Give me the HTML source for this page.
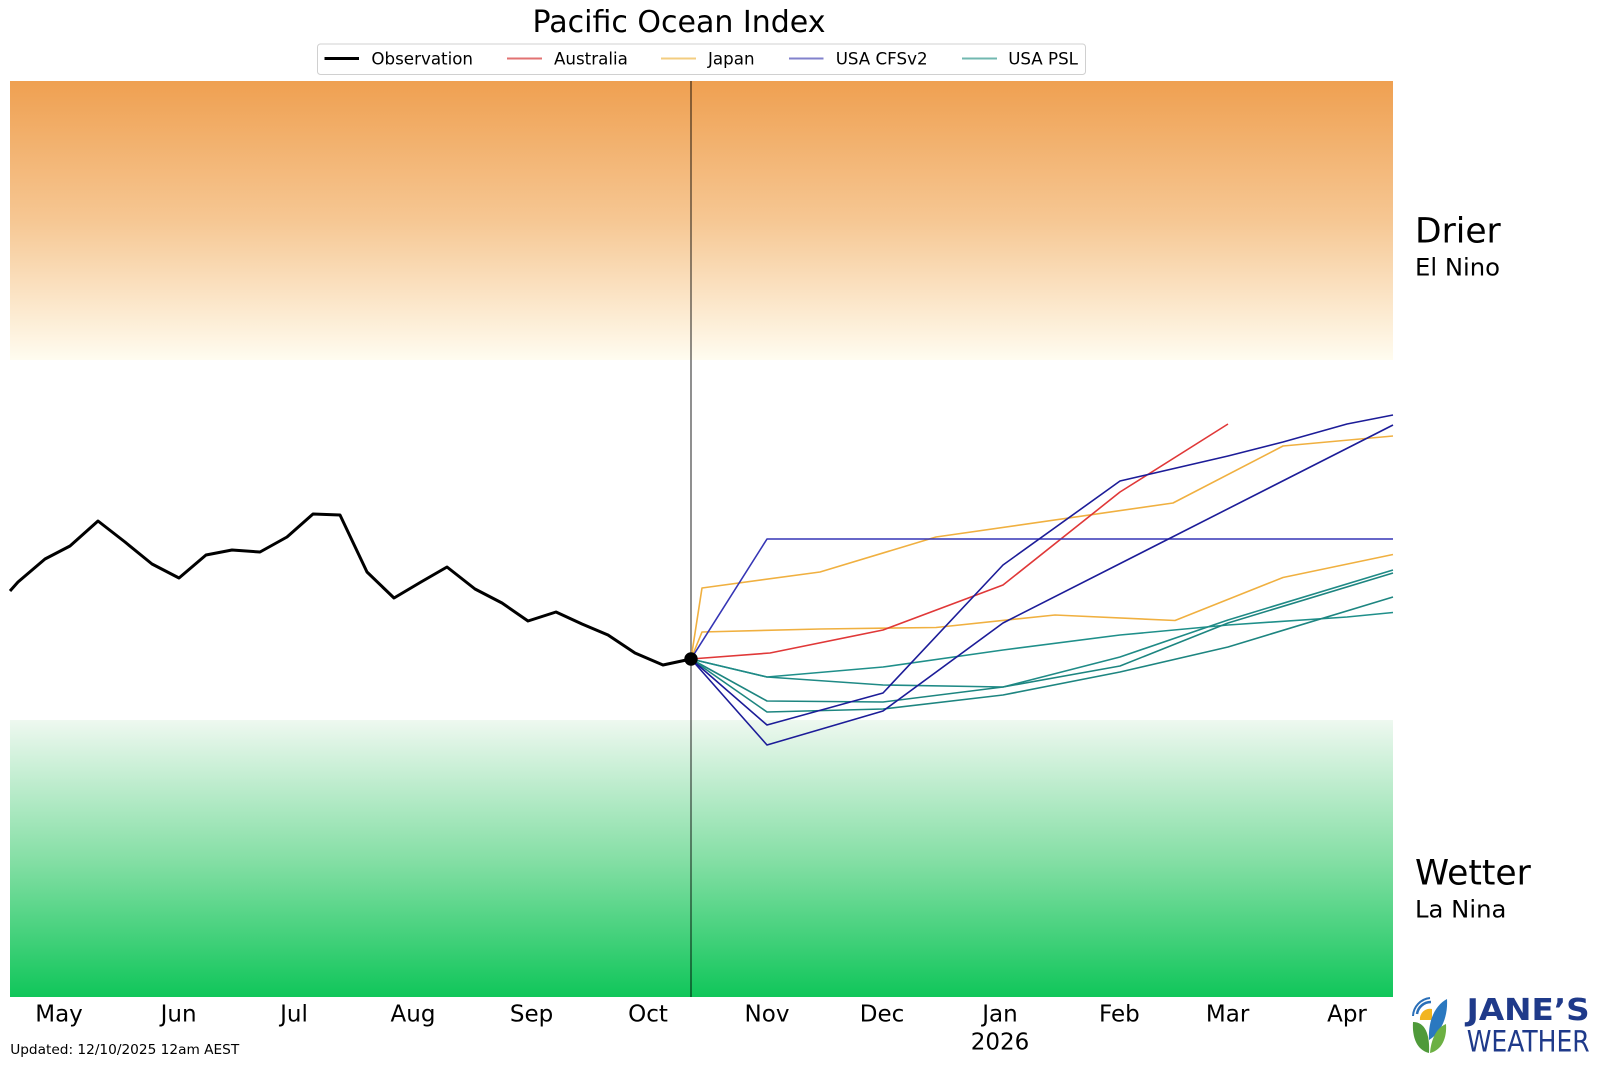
<!DOCTYPE html>
<html>
<head>
<meta charset="utf-8">
<style>
html,body{margin:0;padding:0;background:#fff;}
svg{display:block;}
text{font-family:"DejaVu Sans","Liberation Sans",sans-serif;}
</style>
</head>
<body>
<svg width="1600" height="1067" viewBox="0 0 1600 1067" xmlns="http://www.w3.org/2000/svg">
<defs>
<linearGradient id="og" x1="0" y1="0" x2="0" y2="1">
<stop offset="0" stop-color="#efa051"/>
<stop offset="0.5" stop-color="#f6c793"/>
<stop offset="1" stop-color="#fffcf0"/>
</linearGradient>
<linearGradient id="gg" x1="0" y1="0" x2="0" y2="1">
<stop offset="0" stop-color="#eef8f0"/>
<stop offset="0.5" stop-color="#86dfa6"/>
<stop offset="1" stop-color="#10c65a"/>
</linearGradient>
</defs>
<rect width="1600" height="1067" fill="#fff"/>

<text x="679" y="32" font-size="30" text-anchor="middle" fill="#000">Pacific Ocean Index</text>

<rect x="317.5" y="44" width="768" height="30.5" rx="3" fill="#fff" stroke="#d0d0d0" stroke-width="1"/>
<g font-size="16.7" fill="#000">
<line x1="324.5" y1="58.5" x2="359" y2="58.5" stroke="#000" stroke-width="3"/>
<text x="371.4" y="64.5">Observation</text>
<line x1="507" y1="58.5" x2="542" y2="58.5" stroke="#e27272" stroke-width="2"/>
<text x="554" y="64.5">Australia</text>
<line x1="661" y1="58.5" x2="696" y2="58.5" stroke="#f3cd80" stroke-width="2"/>
<text x="708" y="64.5">Japan</text>
<line x1="789" y1="58.5" x2="823.5" y2="58.5" stroke="#8282cc" stroke-width="2"/>
<text x="835.7" y="64.5">USA CFSv2</text>
<line x1="962" y1="58.5" x2="997" y2="58.5" stroke="#72b8b0" stroke-width="2"/>
<text x="1008.2" y="64.5">USA PSL</text>
</g>

<rect x="10" y="81" width="1383" height="916" fill="#fff"/>
<rect x="10" y="81" width="1383" height="279" fill="url(#og)"/>
<rect x="10" y="720" width="1383" height="277" fill="url(#gg)"/>

<line x1="691" y1="81" x2="691" y2="997" stroke="#000" stroke-opacity="0.55" stroke-width="1.6"/>

<g fill="none" stroke-width="1.6" stroke-linejoin="round">
<polyline stroke="#1f8f8a" points="691,659 767,677 883,667 1003,650 1120,635 1228,625 1347,617 1393,612.5"/>
<polyline stroke="#1f8a86" points="691,659 767,677 883,685 1003,687 1120,657 1228,620 1393,570"/>
<polyline stroke="#1d8580" points="691,659 767,701 883,702 1003,687 1120,666 1228,623 1393,573"/>
<polyline stroke="#1d8580" points="691,659 767,712 883,709 1003,695 1120,672 1228,647 1393,597"/>
<polyline stroke="#f0b040" points="691,659 702,588 820,572 936,537 1173,503 1283,446 1393,436"/>
<polyline stroke="#f0b040" points="691,659 702,632 820,629 936,627.5 1055,615 1175,620.5 1283,577.5 1393,554.5"/>
<polyline stroke="#e03838" points="691,659 770,653 883,630 1003,585 1120,492 1228,424"/>
<polyline stroke="#3535b5" points="691,659 767,539 1393,539"/>
<polyline stroke="#1c1c98" points="691,659 767,725 883,693 1003,565 1120,481 1228,456 1283,442 1347,424 1393,415"/>
<polyline stroke="#1c1c98" points="691,659 767,745 883,711 1003,623 1393,425"/>
</g>

<polyline fill="none" stroke="#000" stroke-width="3" stroke-linejoin="round" points="10,591 18,582 45,559 70,546 98,521 125,542 152,564 179,578 206,555 232,550 260,552 287,537 313,514 340,515 367,572 394,598 421,582 447,567 475,589 502,603 528,621 556,612 582,624 608,635 635,653 663,665 691,659"/>
<circle cx="691" cy="659" r="6.7" fill="#000"/>

<g font-size="23" fill="#000" text-anchor="middle">
<text x="59" y="1021.7">May</text>
<text x="178.6" y="1021.7">Jun</text>
<text x="294" y="1021.7">Jul</text>
<text x="413" y="1021.7">Aug</text>
<text x="531.6" y="1021.7">Sep</text>
<text x="648" y="1021.7">Oct</text>
<text x="767" y="1021.7">Nov</text>
<text x="882" y="1021.7">Dec</text>
<text x="1000" y="1021.7">Jan</text>
<text x="1000" y="1049.3">2026</text>
<text x="1119.4" y="1021.7">Feb</text>
<text x="1227.6" y="1021.7">Mar</text>
<text x="1347" y="1021.7">Apr</text>
</g>

<text x="10.2" y="1054" font-size="13.7" fill="#000">Updated: 12/10/2025 12am AEST</text>

<g fill="#000">
<text x="1415" y="242.7" font-size="34.5">Drier</text>
<text x="1415" y="275.7" font-size="24.3">El Nino</text>
<text x="1415" y="884.5" font-size="34.5">Wetter</text>
<text x="1415" y="917.6" font-size="24.3">La Nina</text>
</g>

<!-- logo -->
<g>
<path d="M1417,1014 A14,14 0 0 1 1431,1002" fill="none" stroke="#2a6fb8" stroke-width="2.5"/>
<path d="M1413,1016 A19,19 0 0 1 1430,998" fill="none" stroke="#2a6fb8" stroke-width="2"/>
<path d="M1420,1020 A10,10 0 0 1 1432,1009 L1432,1020 Z" fill="#f2b51f"/>
<path d="M1429,1040 C1428,1022 1434,1006 1447,999 C1448,1016 1442,1032 1429,1040 Z" fill="#2a78c0"/>
<path d="M1413,1022 C1425,1022 1430,1034 1429,1053 C1417,1050 1412,1038 1413,1022 Z" fill="#4f9a3a"/>
<path d="M1446,1024 C1436,1028 1431,1040 1430,1053 C1442,1050 1447,1038 1446,1024 Z" fill="#6cb043"/>
<text x="1466.7" y="1020" font-family="Liberation Sans, sans-serif" font-weight="bold" font-size="30" fill="#1f3a8a" textLength="123" lengthAdjust="spacingAndGlyphs">JANE’S</text>
<text x="1466.7" y="1051.7" font-family="Liberation Sans, sans-serif" font-size="29" fill="#1f3a8a" textLength="123" lengthAdjust="spacingAndGlyphs">WEATHER</text>
</g>
</svg>
</body>
</html>
